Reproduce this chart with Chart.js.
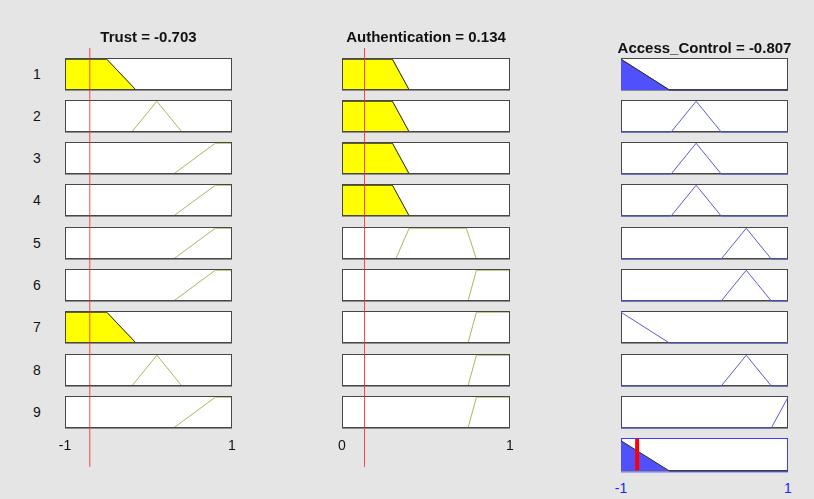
<!DOCTYPE html>
<html>
<head>
<meta charset="utf-8">
<script src="https://cdn.jsdelivr.net/npm/chart.js@4"></script>
<style>
  html, body { margin: 0; padding: 0; background: #e5e5e5; }
  #fig { position: relative; width: 814px; height: 499px; overflow: hidden;
         font-family: "Liberation Sans", Arial, Helvetica, sans-serif; color: #111; }
  .cell { position: absolute; }
  .cell canvas { display: block; }
  .txt { position: absolute; transform: translate(-50%, -50%); white-space: nowrap; line-height: normal; }
  .title { font-weight: bold; font-size: 15px; }
  .lbl { font-size: 14px; }
</style>
</head>
<body>
<div id="fig"></div>
<script>
// Crisp input / output values of the fuzzy system
const trustValue = -0.703;
const authValue = 0.134;
const accessValue = -0.807;

// Universe of discourse for each variable
const trustRange = [-1, 1];
const authRange = [0, 1];
const accessRange = [-1, 1];

// Membership functions, trapezoid parameters [a, b, c, d]
const trustLow = [-1, -1, -0.5, -0.15];
const trustMedium = [-0.2, 0.1, 0.1, 0.4];
const trustHigh = [0.3, 0.8, 1, 1];
const authLow = [0, 0, 0.3, 0.4];
const authMedium = [0.32, 0.4, 0.74, 0.8];
const authHigh = [0.75, 0.8, 1, 1];
const accessLow = [-1, -1, -1, -0.42];
const accessMedium = [-0.4, -0.1, -0.1, 0.2];
const accessHigh = [0.2, 0.5, 0.5, 0.8];
const accessVeryHigh = [0.8, 1, 1, 1];

// Rule base: IF Trust AND Authentication THEN Access_Control
const ruleNumbers = ['1', '2', '3', '4', '5', '6', '7', '8', '9'];
const ruleTrust = ['low', 'medium', 'high', 'high', 'high', 'high', 'low', 'medium', 'high'];
const ruleAuth = ['low', 'low', 'low', 'low', 'medium', 'high', 'high', 'high', 'high'];
const ruleAccess = ['low', 'medium', 'medium', 'medium', 'high', 'high', 'low', 'high', 'veryHigh'];

// Axis tick labels
const trustTicks = [-1, 1];
const authTicks = [0, 1];
const accessTicks = [-1, 1];

// Lookup tables built from the arrays above
const trustSets = { low: trustLow, medium: trustMedium, high: trustHigh };
const authSets = { low: authLow, medium: authMedium, high: authHigh };
const accessSets = { low: accessLow, medium: accessMedium, high: accessHigh, veryHigh: accessVeryHigh };

// Layout
const PAD = 3;
const COL_TRUST = { left: 65, w: 167 };
const COL_AUTH = { left: 342, w: 168 };
const COL_ACCESS = { left: 621, w: 167 };
const ROW_TOP0 = 57.5, ROW_PITCH = 42.3, ROW_H = 32;
const AGG_TOP = 438, AGG_H = 33;
const ROW_YMAX = 1.04;

const YELLOW = '#ffff00';
const OLIVE = '#b3b35c';
const BLUE_LINE = '#5b5bd6';
const BLUE_FILL = '#5050ff';
const EDGE = '#2a2a2a';

const fig = document.getElementById('fig');

function trap(p, x) {
  const [a, b, c, d] = p;
  if (x < a) return 0;
  if (x < b) return (x - a) / (b - a);
  if (x <= c) return 1;
  if (x < d) return (d - x) / (d - c);
  return 0;
}

function mfPoints(p, range) {
  const xs = [range[0], ...p, range[1]].filter(x => x >= range[0] && x <= range[1]);
  return [...new Set(xs)].sort((a, b) => a - b).map(x => ({ x, y: trap(p, x) }));
}

function clipPoints(pts, h) {
  const out = [];
  pts.forEach((p, i) => {
    if (i > 0) {
      const q = pts[i - 1];
      if ((q.y - h) * (p.y - h) < 0) {
        const t = (h - q.y) / (p.y - q.y);
        out.push({ x: q.x + t * (p.x - q.x), y: h });
      }
    }
    out.push({ x: p.x, y: Math.min(p.y, h) });
  });
  return out;
}

function valueAt(pts, x) {
  for (let i = 1; i < pts.length; i++) {
    if (x <= pts[i].x) {
      const a = pts[i - 1], b = pts[i];
      if (b.x === a.x) return Math.max(a.y, b.y);
      return a.y + (b.y - a.y) * (x - a.x) / (b.x - a.x);
    }
  }
  return pts[pts.length - 1].y;
}

// Max-aggregation of several piecewise-linear curves
function aggregate(curves) {
  if (!curves.length) return [{ x: accessRange[0], y: 0 }, { x: accessRange[1], y: 0 }];
  let xs = [...new Set(curves.flatMap(c => c.map(p => p.x)))].sort((a, b) => a - b);
  const extra = [];
  for (let k = 1; k < xs.length; k++) {
    const x0 = xs[k - 1], x1 = xs[k];
    for (let i = 0; i < curves.length; i++) for (let j = i + 1; j < curves.length; j++) {
      const d0 = valueAt(curves[i], x0) - valueAt(curves[j], x0);
      const d1 = valueAt(curves[i], x1) - valueAt(curves[j], x1);
      if (d0 * d1 < 0) extra.push(x0 + (x1 - x0) * d0 / (d0 - d1));
    }
  }
  xs = [...new Set(xs.concat(extra))].sort((a, b) => a - b);
  return xs.map(x => ({ x, y: Math.max(...curves.map(c => valueAt(c, x))) }));
}

// Frame and white face of each small axes
const boxFrame = {
  id: 'boxFrame',
  draw(chart) {
    const o = chart.options.plugins.boxFrame;
    const { left, top, right, bottom } = chart.chartArea;
    const ctx = chart.ctx;
    ctx.save();
    ctx.fillStyle = o.bottom;
    ctx.fillRect(left, bottom - 1, right - left, 2);
    if (o.below) { ctx.fillStyle = o.below; ctx.fillRect(left, bottom + 1, right - left, 1); }
    ctx.strokeStyle = o.border;
    ctx.lineWidth = 1;
    ctx.strokeRect(left + 0.5, top + 0.5, right - left - 1, bottom - top - 1);
    ctx.restore();
  },
  beforeDraw(chart) {
    const o = chart.options.plugins.boxFrame;
    if (!o || !o.border) return;
    const { left, top, right, bottom } = chart.chartArea;
    chart.ctx.save();
    chart.ctx.fillStyle = '#ffffff';
    chart.ctx.fillRect(left, top, right - left, bottom - top);
    chart.ctx.restore();
  },
  beforeDatasetsDraw(chart) { const o = chart.options.plugins.boxFrame; if (o && o.border && o.under) this.draw(chart); },
  afterDatasetsDraw(chart) { const o = chart.options.plugins.boxFrame; if (o && o.border && !o.under) this.draw(chart); }
};
Chart.register(boxFrame);

function makeChart(left, top, w, h, range, yMax, datasets, frame) {
  const div = document.createElement('div');
  div.className = 'cell';
  div.style.left = (left - PAD) + 'px';
  div.style.top = (top - PAD) + 'px';
  const cv = document.createElement('canvas');
  cv.width = w + 2 * PAD; cv.height = h + 2 * PAD;
  cv.style.width = cv.width + 'px'; cv.style.height = cv.height + 'px';
  div.appendChild(cv);
  fig.appendChild(div);
  return new Chart(cv, {
    type: 'line',
    data: { datasets },
    options: {
      responsive: false, animation: false, events: [],
      devicePixelRatio: 1,
      layout: { padding: PAD },
      scales: {
        x: { type: 'linear', min: range[0], max: range[1], display: false },
        y: { type: 'linear', min: 0, max: yMax, display: false }
      },
      plugins: { legend: { display: false }, tooltip: { enabled: false }, boxFrame: frame },
      elements: { point: { radius: 0 }, line: { tension: 0 } }
    }
  });
}

function addText(cls, text, x, y, color) {
  const s = document.createElement('div');
  s.className = 'txt ' + cls;
  s.textContent = text;
  s.style.left = x + 'px';
  s.style.top = y + 'px';
  if (color) s.style.color = color;
  fig.appendChild(s);
}

function mfDatasets(points, degree, lineColor, fillColor) {
  const sets = [];
  if (degree > 0) {
    sets.push({ data: clipPoints(points, degree), borderColor: EDGE, borderWidth: 1,
                backgroundColor: fillColor, fill: 'origin', clip: 3 });
  }
  sets.push({ data: points, borderColor: lineColor, borderWidth: 1, fill: false, clip: 3 });
  return sets;
}

const inputFrame = { border: '#474747', bottom: '#8e8e8e', under: false };
const outputFrame = { border: '#474747', bottom: '#8e8e8e', under: true };

const firedOutputs = [];

ruleNumbers.forEach((label, i) => {
  const top = Math.round(ROW_TOP0 + i * ROW_PITCH);
  addText('lbl', label, 37, top + 16);

  const tP = trustSets[ruleTrust[i]];
  const aP = authSets[ruleAuth[i]];
  const oP = accessSets[ruleAccess[i]];
  const tDeg = trap(tP, trustValue);
  const aDeg = trap(aP, authValue);
  const strength = Math.min(tDeg, aDeg);

  makeChart(COL_TRUST.left, top, COL_TRUST.w, ROW_H, trustRange, ROW_YMAX,
            mfDatasets(mfPoints(tP, trustRange), tDeg, OLIVE, YELLOW), inputFrame);
  makeChart(COL_AUTH.left, top, COL_AUTH.w, ROW_H, authRange, ROW_YMAX,
            mfDatasets(mfPoints(aP, authRange), aDeg, OLIVE, YELLOW), inputFrame);

  const oPts = mfPoints(oP, accessRange);
  makeChart(COL_ACCESS.left, top, COL_ACCESS.w, ROW_H, accessRange, ROW_YMAX,
            mfDatasets(oPts, strength, BLUE_LINE, BLUE_FILL), outputFrame);
  if (strength > 0) firedOutputs.push(clipPoints(oPts, strength));
});

// Aggregated output with the defuzzified value
const aggPts = aggregate(firedOutputs);
const aggChart = makeChart(COL_ACCESS.left, AGG_TOP, COL_ACCESS.w, AGG_H, accessRange, 1.09, [
  { data: [{ x: accessValue, y: 0.03 }, { x: accessValue, y: 1.06 }], borderColor: '#ff0000', borderWidth: 4, fill: false },
  { data: aggPts, borderColor: EDGE, borderWidth: 1, backgroundColor: BLUE_FILL, fill: 'origin', clip: 3 }
], { border: '#3b3bff', bottom: '#8e8e8e', below: '#a9a9ff', under: true });

// Crisp input markers spanning every rule row
function inputMarker(col, range, value) {
  return makeChart(col.left, 48, col.w, 419, range, 1, [
    { data: [{ x: value, y: 0 }, { x: value, y: 1 }], borderColor: 'rgba(255,40,40,0.85)', borderWidth: 1, fill: false }
  ], null);
}
const trustMarker = inputMarker(COL_TRUST, trustRange, trustValue);
const authMarker = inputMarker(COL_AUTH, authRange, authValue);

// Titles
addText('title', 'Trust = ' + trustValue.toFixed(3), COL_TRUST.left + COL_TRUST.w / 2, 35.5);
addText('title', 'Authentication = ' + authValue.toFixed(3), COL_AUTH.left + COL_AUTH.w / 2, 35.5);
addText('title', 'Access_Control = ' + accessValue.toFixed(3), COL_ACCESS.left + COL_ACCESS.w / 2, 46.5);

// Tick labels placed from each chart's x scale
function ticks(chart, col, values, y, color) {
  values.forEach(v => addText('lbl', String(v), col.left - PAD + chart.scales.x.getPixelForValue(v), y, color));
}
ticks(trustMarker, COL_TRUST, trustTicks, 445);
ticks(authMarker, COL_AUTH, authTicks, 445);
ticks(aggChart, COL_ACCESS, accessTicks, 487.5, '#2323ff');
</script>
</body>
</html>
